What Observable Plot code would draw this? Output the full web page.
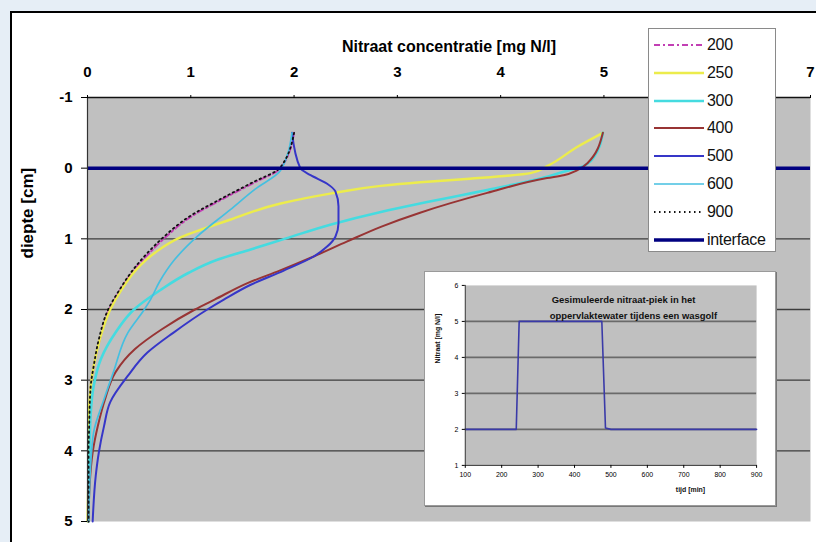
<!DOCTYPE html>
<html>
<head>
<meta charset="utf-8">
<script src="https://cdn.jsdelivr.net/npm/d3@7"></script>
<script src="https://cdn.jsdelivr.net/npm/@observablehq/plot@0.6"></script>
<style>
  html, body { margin: 0; padding: 0; background: #e6eef6; }
  #wrap { position: relative; width: 816px; height: 542px; overflow: hidden; background: #e6eef6; font-family: Arial, "Liberation Sans", sans-serif; }
  #paper { position: absolute; left: 10px; top: 11px; width: 806px; height: 531px; background: #fff; border-top: 2px solid #000; border-left: 2px solid #000; box-sizing: border-box; }
  #main { position: absolute; left: 0; top: 0; }
  #legend { position: absolute; left: 648px; top: 28px; width: 128px; height: 224px; background: #fff; border: 1px solid #8a8a8a; box-sizing: border-box; }
  .lg { position: absolute; left: 4px; height: 20px; display: flex; align-items: center; font-size: 16px; color: #111; letter-spacing: -0.3px; }
  .lg svg { display: block; margin-right: 2px; }
  #inset { position: absolute; left: 424px; top: 271px; width: 352px; height: 235px; background: #fff; border: 1px solid #9a9a9a; box-sizing: border-box; box-shadow: 1px 1px 0 #777; }
  #inset svg { position: absolute; left: -1px; top: -1px; }
</style>
</head>
<body>
<div id="wrap">
  <div id="paper"></div>
  <div id="main"></div>
  <div id="legend"></div>
  <div id="inset"></div>
</div>
<script>
// ---------- data ----------
const seriesNames = ["200", "250", "300", "400", "500", "600", "900"];
const interfaceName = "interface";

const depth200 = [-0.5, 0, 0.2, 0.42, 0.69, 0.97, 1.2, 1.44, 1.72, 2.0, 2.42, 2.8, 3.1, 3.7, 4.0, 5.0];
const conc200  = [2.0, 1.87, 1.62, 1.33, 1.0, 0.76, 0.6, 0.45, 0.32, 0.21, 0.12, 0.06, 0.03, 0.015, 0.01, 0.01];

const depth250 = [-0.5, -0.3, -0.03, 0.07, 0.15, 0.2, 0.25, 0.36, 0.5, 0.73, 0.86, 0.98, 1.2, 1.44, 1.72, 2.0, 2.42, 2.8, 3.1, 3.7, 4.0, 5.0];
const conc250  = [4.99, 4.74, 4.45, 4.29, 3.7, 3.22, 2.84, 2.35, 1.87, 1.38, 1.12, 0.9, 0.65, 0.47, 0.33, 0.22, 0.12, 0.06, 0.03, 0.01, 0.01, 0.0];

const depth300 = [-0.5, -0.15, -0.01, 0.05, 0.12, 0.31, 0.5, 0.62, 0.8, 0.99, 1.15, 1.3, 1.48, 1.72, 2.0, 2.33, 2.7, 3.08, 3.5, 4.0, 5.0];
const conc300  = [4.99, 4.9, 4.77, 4.61, 4.45, 3.87, 3.22, 2.84, 2.35, 1.93, 1.58, 1.25, 0.98, 0.71, 0.45, 0.27, 0.13, 0.06, 0.03, 0.02, 0.01];

const depth400 = [-0.5, -0.07, 0.03, 0.1, 0.14, 0.35, 0.63, 0.83, 1.04, 1.25, 1.45, 1.62, 1.86, 2.0, 2.28, 2.56, 2.89, 3.27, 3.65, 4.02, 4.5, 5.0];
const conc400  = [4.99, 4.84, 4.74, 4.61, 4.45, 3.87, 3.22, 2.84, 2.51, 2.19, 1.86, 1.56, 1.23, 1.04, 0.72, 0.46, 0.27, 0.17, 0.1, 0.05, 0.02, 0.01];

const depth500 = [-0.5, 0, 0.1, 0.22, 0.33, 0.54, 0.78, 0.97, 1.11, 1.25, 1.45, 1.65, 1.86, 2.0, 2.33, 2.61, 2.94, 3.31, 3.65, 4.02, 4.35, 5.0];
const conc500  = [1.98, 2.06, 2.16, 2.32, 2.4, 2.43, 2.43, 2.4, 2.32, 2.19, 1.9, 1.58, 1.32, 1.16, 0.83, 0.58, 0.39, 0.22, 0.16, 0.11, 0.08, 0.05];

const depth600 = [-0.5, 0.03, 0.3, 0.59, 0.97, 1.3, 1.6, 1.86, 2.0, 2.33, 2.89, 3.27, 3.73, 4.0, 5.0];
const conc600  = [1.98, 1.87, 1.62, 1.38, 1.06, 0.84, 0.7, 0.61, 0.55, 0.39, 0.25, 0.16, 0.06, 0.04, 0.01];

const depth900 = [-0.5, 0, 0.2, 0.42, 0.69, 0.97, 1.2, 1.44, 1.72, 2.0, 2.42, 2.8, 3.1, 3.7, 4.0, 5.0];
const conc900  = [2.0, 1.86, 1.6, 1.31, 0.98, 0.74, 0.58, 0.44, 0.31, 0.2, 0.11, 0.06, 0.03, 0.015, 0.01, 0.01];

const interfaceDepth = [0];
const gridDepths = [1, 2, 3, 4];
const xTicks = [0, 1, 2, 3, 4, 5, 7];   // "6" is hidden behind the legend in the original
const yTicks = [-1, 0, 1, 2, 3, 4, 5];

const insetTime = [100, 240, 248, 475, 485, 500, 900];
const insetConc = [2, 2, 5, 5, 2.04, 2, 2];
const insetXTicks = [100, 200, 300, 400, 500, 600, 700, 800, 900];
const insetYTicks = [1, 2, 3, 4, 5, 6];
const insetGrid = [2, 3, 4, 5];

const titleText = "Nitraat concentratie [mg N/l]";
const yLabelText = "diepte [cm]";
const insetTitle1 = "Gesimuleerde nitraat-piek in het";
const insetTitle2 = "oppervlaktewater tijdens een wasgolf";
const insetXLabel = "tijd [min]";
const insetYLabel = "Nitraat [mg N/l]";

// ---------- styles ----------
const styleOf = {
  "200": {stroke: "#c23fb4", strokeWidth: 2, strokeDasharray: "6,3,2,3"},
  "250": {stroke: "#ecec4c", strokeWidth: 2.4},
  "300": {stroke: "#45dbe0", strokeWidth: 2.6},
  "400": {stroke: "#983434", strokeWidth: 2},
  "500": {stroke: "#3636c8", strokeWidth: 2},
  "600": {stroke: "#45bfe0", strokeWidth: 1.7},
  "900": {stroke: "#111", strokeWidth: 1.8, strokeDasharray: "1.5,3.5"},
  "interface": {stroke: "#000080", strokeWidth: 3.5}
};

const seriesData = {
  "200": [depth200, conc200], "250": [depth250, conc250], "300": [depth300, conc300],
  "400": [depth400, conc400], "500": [depth500, conc500], "600": [depth600, conc600],
  "900": [depth900, conc900]
};
const rowsOf = name => seriesData[name][0].map((d, i) => ({depth: d, conc: seriesData[name][1][i]}));

const FONT = 'Arial, "Liberation Sans", sans-serif';

const lineMarks = seriesNames.map(name =>
  Plot.line(rowsOf(name), {x: "conc", y: "depth", curve: "monotone-y", ...styleOf[name], strokeLinejoin: "round"})
);

const main = Plot.plot({
  width: 816, height: 542,
  marginLeft: 87, marginRight: 6, marginTop: 97, marginBottom: 21,
  style: {background: "transparent", fontFamily: FONT, color: "#000", overflow: "visible"},
  x: {domain: [0, 7]},
  y: {domain: [-1, 5], reverse: true},
  marks: [
    Plot.frame({fill: "#c0c0c0"}),
    Plot.ruleY(gridDepths, {stroke: "#3c3c3c", strokeWidth: 1.3}),
    ...lineMarks,
    Plot.ruleY(interfaceDepth, {...styleOf["interface"]}),
    Plot.ruleX([0], {stroke: "#333", strokeWidth: 1.2}),
    Plot.ruleY([-1], {stroke: "#111", strokeWidth: 1.5}),
    Plot.axisX({anchor: "top", ticks: xTicks, tickSize: 3, tickPadding: 18, fontSize: 15, fontWeight: "bold", label: null, tickFormat: d => String(d)}),
    Plot.axisY({anchor: "left", ticks: yTicks, tickSize: 6, tickPadding: 9, fontSize: 15, fontWeight: "bold", label: null, tickFormat: d => String(d)}),
    Plot.text([titleText], {text: d => d, frameAnchor: "top", dy: -57, fontSize: 16, fontWeight: "bold", fill: "#000"}),
    Plot.text([yLabelText], {text: d => d, frameAnchor: "left", dx: -60, dy: -51, rotate: -90, fontSize: 17, fontWeight: "bold", fill: "#000"})
  ]
});
document.getElementById("main").appendChild(main);

// ---------- legend ----------
const legend = document.getElementById("legend");
[...seriesNames, interfaceName].forEach((name, i) => {
  const s = styleOf[name];
  const row = document.createElement("div");
  row.className = "lg";
  row.style.top = (6 + i * 27.8) + "px";
  const ns = "http://www.w3.org/2000/svg";
  const svg = document.createElementNS(ns, "svg");
  svg.setAttribute("width", "52"); svg.setAttribute("height", "10");
  const ln = document.createElementNS(ns, "line");
  ln.setAttribute("x1", "1"); ln.setAttribute("x2", "51"); ln.setAttribute("y1", "5"); ln.setAttribute("y2", "5");
  ln.setAttribute("stroke", s.stroke);
  ln.setAttribute("stroke-width", Math.min(s.strokeWidth, 3.5));
  if (s.strokeDasharray) ln.setAttribute("stroke-dasharray", s.strokeDasharray);
  svg.appendChild(ln);
  row.appendChild(svg);
  const t = document.createElement("span");
  t.textContent = name;
  row.appendChild(t);
  legend.appendChild(row);
});

// ---------- inset ----------
const insetRows = insetTime.map((t, i) => ({t, c: insetConc[i]}));
const inset = Plot.plot({
  width: 352, height: 235,
  marginLeft: 41, marginRight: 18, marginTop: 14, marginBottom: 40,
  style: {background: "transparent", fontFamily: FONT, color: "#000", overflow: "visible"},
  x: {domain: [100, 900]},
  y: {domain: [1, 6]},
  marks: [
    Plot.frame({fill: "#c0c0c0"}),
    Plot.ruleY(insetGrid, {stroke: "#6a6a6a", strokeWidth: 1.6}),
    Plot.line(insetRows, {x: "t", y: "c", stroke: "#3a3aa8", strokeWidth: 1.6}),
    Plot.ruleX([100], {stroke: "#333"}),
    Plot.ruleY([1], {stroke: "#333"}),
    Plot.axisX({ticks: insetXTicks, tickSize: 3, tickPadding: 4, fontSize: 7, label: null, tickFormat: d => String(d)}),
    Plot.axisY({ticks: insetYTicks, tickSize: 3, tickPadding: 4, fontSize: 7, label: null, tickFormat: d => String(d)}),
    Plot.text([insetTitle1], {text: d => d, frameAnchor: "top-left", dx: 87, dy: 11, textAnchor: "start", fontSize: 9.5, fontWeight: "bold", fill: "#111"}),
    Plot.text([insetTitle2], {text: d => d, frameAnchor: "top-left", dx: 85, dy: 27, textAnchor: "start", fontSize: 9.5, fontWeight: "bold", fill: "#111"}),
    Plot.text([insetXLabel], {text: d => d, frameAnchor: "bottom", dx: 80, dy: 27, fontSize: 7, fontWeight: "bold", fill: "#111"}),
    Plot.text([insetYLabel], {text: d => d, frameAnchor: "left", dx: -28, dy: -12, rotate: -90, fontSize: 7, fontWeight: "bold", fill: "#111"})
  ]
});
document.getElementById("inset").appendChild(inset);
</script>
</body>
</html>
